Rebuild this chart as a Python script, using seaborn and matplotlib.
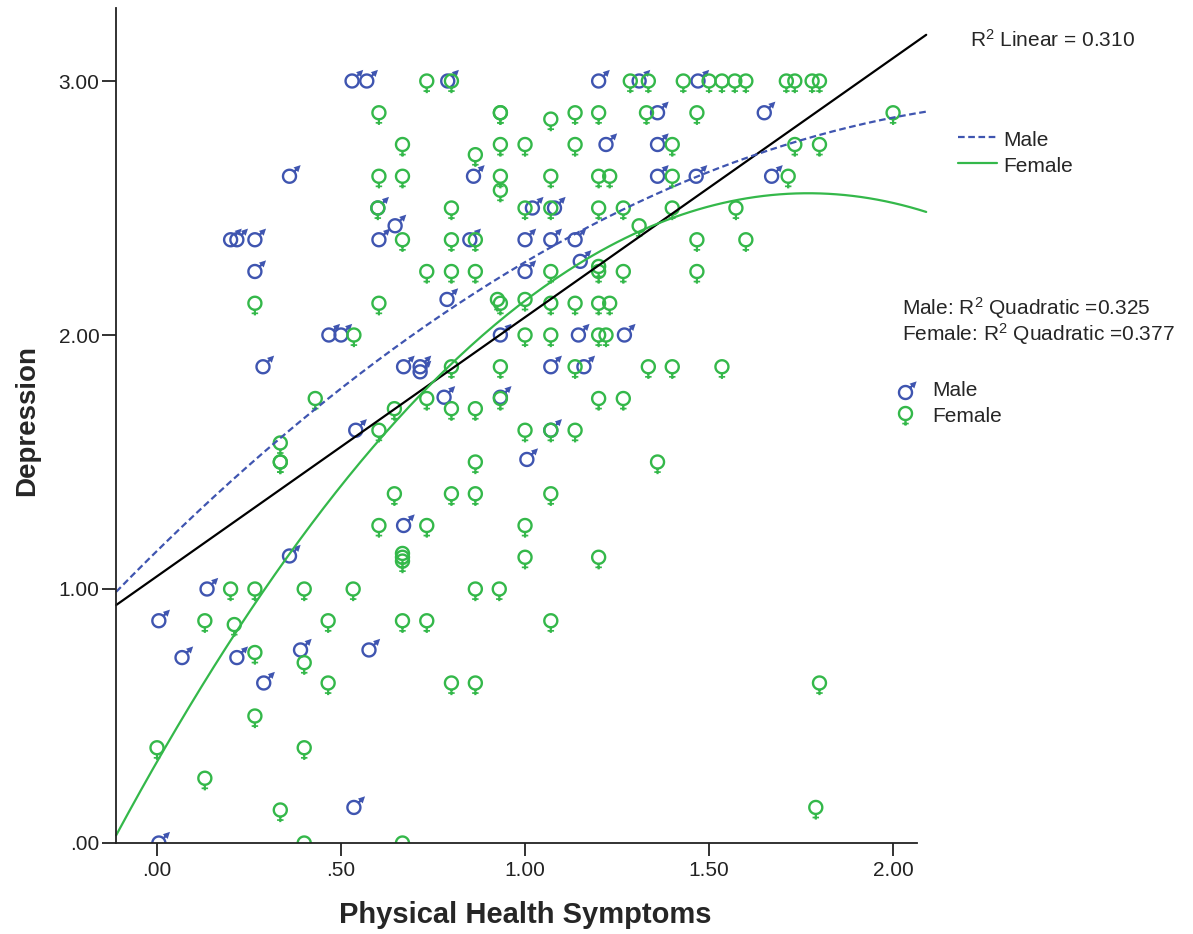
import numpy as np
import pandas as pd
import matplotlib
matplotlib.use("Agg")
import matplotlib.pyplot as plt
import seaborn as sns
from matplotlib.lines import Line2D
from matplotlib.markers import MarkerStyle
from matplotlib.path import Path
from matplotlib.transforms import Affine2D

# ─── Données ─────────────────────────────────────────────────
male_x = [0.53, 0.57, 0.79, 1.20, 1.31, 1.47,
          1.36, 1.65,
          1.22, 1.36,
          0.36, 0.86, 1.36, 1.465, 1.67,
          0.60, 1.02, 1.08, 0.647,
          0.20, 0.217, 0.266, 0.603, 0.85, 1.0, 1.07, 1.136,
          1.15, 0.266, 1.0,
          0.788,
          0.467, 0.50, 0.933, 1.145, 1.27,
          0.288, 0.67, 0.715, 0.715, 1.07, 1.16,
          0.78, 0.933,
          0.54, 1.07,
          1.005,
          0.67,
          0.36,
          0.136,
          0.005,
          0.068, 0.217, 0.39, 0.576,
          0.29,
          0.535,
          0.005]
male_y = [3.0, 3.0, 3.0, 3.0, 3.0, 3.0,
          2.875, 2.875,
          2.75, 2.75,
          2.625, 2.625, 2.625, 2.625, 2.625,
          2.5, 2.5, 2.5, 2.43,
          2.375, 2.375, 2.375, 2.375, 2.375, 2.375, 2.375, 2.375,
          2.29, 2.25, 2.25,
          2.14,
          2.0, 2.0, 2.0, 2.0, 2.0,
          1.875, 1.875, 1.875, 1.855, 1.875, 1.875,
          1.755, 1.755,
          1.625, 1.625,
          1.51,
          1.25,
          1.13,
          1.0,
          0.875,
          0.73, 0.73, 0.76, 0.76,
          0.63,
          0.14,
          0.0]

female_x = [0.733, 0.80, 1.286, 1.335, 1.43, 1.50, 1.535, 1.57, 1.60, 1.71, 1.733, 1.78, 1.80,
            0.603, 0.933, 0.933, 1.07, 1.136, 1.2, 1.33, 1.467, 2.0,
            0.667, 0.865, 0.933, 1.0, 1.136, 1.40, 1.733, 1.80,
            0.603, 0.667, 0.933, 0.933, 1.07, 1.2, 1.23, 1.40, 1.715,
            0.60, 0.80, 1.0, 1.07, 1.2, 1.267, 1.40, 1.573, 1.31,
            0.667, 0.80, 0.865, 1.467, 1.60,
            0.733, 0.80, 0.865, 1.07, 1.2, 1.2, 1.267, 1.467,
            0.266, 0.603, 0.925, 0.933, 1.0, 1.07, 1.136, 1.2, 1.23,
            0.535, 1.0, 1.07, 1.2, 1.22,
            0.80, 0.933, 1.136, 1.335, 1.40, 1.535,
            0.43, 0.733, 0.645, 0.80, 0.865, 0.933, 1.2, 1.267,
            0.603, 1.0, 1.07, 1.136, 0.335,
            0.335, 0.335, 0.865, 1.36,
            0.645, 0.80, 0.865, 1.07,
            0.603, 0.733, 1.0,
            0.667, 0.667, 0.667, 1.0, 1.2,
            0.2, 0.266, 0.40, 0.533, 0.865, 0.93,
            0.13, 0.21, 0.465, 0.667, 0.733, 1.07,
            0.266, 0.40,
            0.465, 0.80, 0.865, 1.80,
            0.266,
            0.0, 0.40,
            0.13,
            0.335, 1.79,
            0.40, 0.667]
female_y = [3.0, 3.0, 3.0, 3.0, 3.0, 3.0, 3.0, 3.0, 3.0, 3.0, 3.0, 3.0, 3.0,
            2.875, 2.875, 2.875, 2.85, 2.875, 2.875, 2.875, 2.875, 2.875,
            2.75, 2.71, 2.75, 2.75, 2.75, 2.75, 2.75, 2.75,
            2.625, 2.625, 2.625, 2.57, 2.625, 2.625, 2.625, 2.625, 2.625,
            2.5, 2.5, 2.5, 2.5, 2.5, 2.5, 2.5, 2.5, 2.43,
            2.375, 2.375, 2.375, 2.375, 2.375,
            2.25, 2.25, 2.25, 2.25, 2.27, 2.25, 2.25, 2.25,
            2.125, 2.125, 2.14, 2.125, 2.14, 2.125, 2.125, 2.125, 2.125,
            2.0, 2.0, 2.0, 2.0, 2.0,
            1.875, 1.875, 1.875, 1.875, 1.875, 1.875,
            1.75, 1.75, 1.71, 1.71, 1.71, 1.75, 1.75, 1.75,
            1.625, 1.625, 1.625, 1.625, 1.575,
            1.5, 1.5, 1.5, 1.5,
            1.375, 1.375, 1.375, 1.375,
            1.25, 1.25, 1.25,
            1.14, 1.125, 1.11, 1.125, 1.125,
            1.0, 1.0, 1.0, 1.0, 1.0, 1.0,
            0.875, 0.86, 0.875, 0.875, 0.875, 0.875,
            0.75, 0.71,
            0.63, 0.63, 0.63, 0.63,
            0.5,
            0.375, 0.375,
            0.255,
            0.13, 0.14,
            0.0, 0.0]

# Coefficients des ajustements (constante, x, x²)
linear_coef = [1.05, 1.02]
male_quad = [1.150, 1.421, -0.284]
female_quad = [0.32, 2.53, -0.715]

x_ticks = [0.0, 0.5, 1.0, 1.5, 2.0]
x_ticklabels = [".00", ".50", "1.00", "1.50", "2.00"]
y_ticks = [0.0, 1.0, 2.0, 3.0]
y_ticklabels = [".00", "1.00", "2.00", "3.00"]

BLUE = "#3F55B0"
GREEN = "#34B84A"


# ─── Symboles ♂ / ♀ (anneau centré sur le point) ─────────────
def polys_to_path(polys):
    verts, codes = [], []
    for p in polys:
        p = np.asarray(p, dtype=float)
        verts.extend(p.tolist())
        verts.append(p[0].tolist())
        codes.extend([Path.MOVETO] + [Path.LINETO] * (len(p) - 1) + [Path.CLOSEPOLY])
    return Path(verts, codes)


def ring(r_o=1.0, r_i=0.69, n=64):
    t = np.linspace(0, 2 * np.pi, n, endpoint=False)
    outer = np.c_[r_o * np.cos(t), r_o * np.sin(t)]
    inner = np.c_[r_i * np.cos(t), r_i * np.sin(t)][::-1]
    return [outer, inner]


def rect(x0, x1, y0, y1):
    return [(x0, y0), (x1, y0), (x1, y1), (x0, y1)]


def female_path():
    return polys_to_path(ring() + [rect(-0.14, 0.14, -1.58, -0.85),
                                   rect(-0.42, 0.42, -1.42, -1.20)])


def male_path():
    u = np.array([1.0, 1.0]) / np.sqrt(2)
    nv = np.array([-1.0, 1.0]) / np.sqrt(2)

    def pt(s, w):
        return s * u + w * nv

    shaft = [pt(0.85, -0.14), pt(1.45, -0.14), pt(1.45, 0.14), pt(0.85, 0.14)]
    head = [pt(1.18, -0.44), pt(2.05, 0.0), pt(1.18, 0.44)]
    return polys_to_path(ring() + [shaft, head])


# mise à l'échelle commune (max |coord| : ♀ 1.58, ♂ 2.05/√2)
female_marker = MarkerStyle(female_path())
male_marker = MarkerStyle(male_path(),
                          transform=Affine2D().scale(2.05 / np.sqrt(2) / 1.58))

# ─── Style ───────────────────────────────────────────────────
sns.set_style("ticks")
plt.rcParams["font.family"] = ["Liberation Sans", "DejaVu Sans"]
plt.rcParams["mathtext.fontset"] = "custom"
plt.rcParams["mathtext.rm"] = "Liberation Sans"
plt.rcParams["mathtext.it"] = "Liberation Sans:italic"
plt.rcParams["mathtext.bf"] = "Liberation Sans:bold"

df = pd.DataFrame({
    "phys": male_x + female_x,
    "dep": male_y + female_y,
    "sexe": ["Male"] * len(male_x) + ["Female"] * len(female_x),
})

W, H = 1193, 934
fig = plt.figure(figsize=(W / 100, H / 100), dpi=100)
ax = fig.add_axes([116 / W, (H - 843) / H, (917 - 116) / W, (843 - 8) / H])


def fx(px):
    return px / W


def fy(py):
    return 1 - py / H


MSIZE = 17.5
sns.scatterplot(
    data=df, x="phys", y="dep", hue="sexe", style="sexe",
    palette={"Male": BLUE, "Female": GREEN},
    markers={"Male": male_marker, "Female": female_marker},
    s=MSIZE ** 2, linewidth=0, legend=False, ax=ax,
)

# ─── Courbes d'ajustement ────────────────────────────────────
xs = np.linspace(-0.111, 2.09, 200)
ax.plot(xs, np.polynomial.polynomial.polyval(xs, linear_coef),
        color="black", lw=1.6, clip_on=False)
ax.plot(xs, np.polynomial.polynomial.polyval(xs, male_quad),
        color=BLUE, lw=1.6, dashes=(3, 1.6), clip_on=False)
ax.plot(xs, np.polynomial.polynomial.polyval(xs, female_quad),
        color=GREEN, lw=1.6, clip_on=False)

ax.set_xlim(-0.1114, 2.065)
ax.set_ylim(0, (843 - 8) / 254)
ax.set_xticks(x_ticks)
ax.set_xticklabels(x_ticklabels)
ax.set_yticks(y_ticks)
ax.set_yticklabels(y_ticklabels)
ax.tick_params(axis="x", direction="out", length=9, width=1.3, pad=4,
               labelsize=15, colors="#222222")
ax.tick_params(axis="y", direction="out", length=10, width=1.3, pad=2,
               labelsize=15, colors="#222222")
sns.despine(ax=ax)
for side in ("left", "bottom"):
    ax.spines[side].set_color("#222222")
    ax.spines[side].set_linewidth(1.3)
ax.set_xlabel("")
ax.set_ylabel("")

fig.text(fx(525), fy(915), "Physical Health Symptoms", fontsize=21,
         fontweight="bold", ha="center", va="center")
fig.text(fx(27), fy(420), "Depression", fontsize=20, fontweight="bold",
         rotation=90, ha="center", va="center")

# ─── Légendes / annotations ──────────────────────────────────
fig.text(fx(970), fy(40), "R$^2$ Linear = 0.310", fontsize=15, va="center")

fig.add_artist(Line2D([fx(958), fx(997)], [fy(137), fy(137)], color=BLUE,
                      lw=1.6, dashes=(3, 1.6)))
fig.add_artist(Line2D([fx(958), fx(997)], [fy(163), fy(163)], color=GREEN,
                      lw=1.6))
fig.text(fx(1003), fy(140), "Male", fontsize=15, va="center")
fig.text(fx(1003), fy(167), "Female", fontsize=15, va="center")

fig.text(fx(902), fy(308), "Male: R$^2$ Quadratic =0.325", fontsize=15,
         va="center")
fig.text(fx(902), fy(334), "Female: R$^2$ Quadratic =0.377", fontsize=15,
         va="center")

fig.add_artist(Line2D([fx(905)], [fy(392)], marker=male_marker, markersize=MSIZE,
                      markeredgewidth=0, color=BLUE, linestyle="none"))
fig.add_artist(Line2D([fx(905)], [fy(413)], marker=female_marker, markersize=MSIZE,
                      markeredgewidth=0, color=GREEN, linestyle="none"))
fig.text(fx(932), fy(391), "Male", fontsize=15, va="center")
fig.text(fx(932), fy(417), "Female", fontsize=15, va="center")

fig.savefig("out.png", dpi=100)
